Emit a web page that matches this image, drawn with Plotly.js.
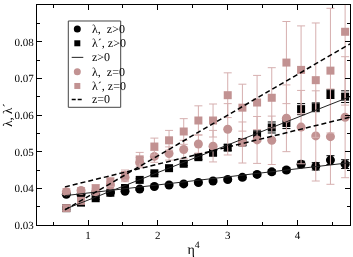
<!DOCTYPE html>
<html>
<head>
<meta charset="utf-8">
<script src="https://cdn.plot.ly/plotly-3.0.1.min.js"></script>
<style>
html,body{margin:0;padding:0;background:#fff;}
#chart{width:353px;height:257px;}
#chart .main-svg{will-change:transform;}
#chart text{text-rendering:geometricPrecision;}
</style>
</head>
<body>
<div id="chart"></div>
<script>
// eta^4 values
var x = [0.69, 0.90, 1.11, 1.32, 1.53, 1.74, 1.95, 2.16, 2.37, 2.58, 2.79, 3.00, 3.21, 3.42, 3.63, 3.84, 4.05, 4.26, 4.47, 4.68];
// lambda, z>0
var lamPos = [0.0384, 0.0383, 0.0387, 0.0389, 0.0392, 0.0398, 0.0405, 0.0409, 0.0412, 0.0416, 0.0420, 0.0424, 0.0430, 0.0438, 0.0445, 0.0450, 0.0466, 0.0460, 0.0477, 0.0466];
var lamPosErr = [0.0003, 0.0003, 0.0003, 0.0003, 0.0003, 0.0003, 0.0003, 0.0003, 0.0004, 0.0004, 0.0004, 0.0004, 0.0005, 0.0005, 0.0006, 0.0006, 0.0008, 0.0010, 0.0012, 0.0012];
// lambda', z>0
var lamPPos = [0.0346, 0.0361, 0.0373, 0.0388, 0.0401, 0.0423, 0.0441, 0.0455, 0.0467, 0.0485, 0.0497, 0.0511, 0.0526, 0.0545, 0.0566, 0.0578, 0.0616, 0.0621, 0.0657, 0.0650];
var lamPPosErr = [0.0003, 0.0003, 0.0003, 0.0003, 0.0003, 0.0003, 0.0003, 0.0003, 0.0005, 0.0006, 0.0007, 0.0008, 0.0010, 0.0012, 0.0015, 0.0015, 0.0015, 0.0012, 0.0012, 0.0016];
// lambda, z=0
var lamZ = [0.0391, 0.0394, 0.0391, 0.0409, 0.0430, 0.0470, 0.0487, 0.0495, 0.0506, 0.0521, 0.0515, 0.0561, 0.0525, 0.0532, 0.0531, 0.0591, 0.0567, 0.0543, 0.0541, 0.0594];
var lamZErr = [0.0008, 0.0008, 0.0009, 0.0010, 0.0012, 0.0014, 0.0016, 0.0018, 0.0025, 0.0025, 0.0043, 0.0070, 0.0056, 0.0064, 0.0066, 0.0091, 0.0100, 0.0123, 0.0130, 0.0165];
// lambda', z=0
var lamPZ = [0.0346, 0.0366, 0.0400, 0.0418, 0.0436, 0.0479, 0.0514, 0.0531, 0.0555, 0.0585, 0.0585, 0.0654, 0.0620, 0.0634, 0.0647, 0.0743, 0.0723, 0.0695, 0.0721, 0.0827];
var lamPZErr = [0.0007, 0.0008, 0.0010, 0.0012, 0.0014, 0.0019, 0.0023, 0.0027, 0.0035, 0.0040, 0.0045, 0.0061, 0.0064, 0.0074, 0.0082, 0.0112, 0.0120, 0.0156, 0.0170, 0.0200];
// fit lines (end points)
var xFit = [0.67, 4.75];
var fitLamPos = [0.0380, 0.0470];
var fitLamPPos = [0.0343, 0.0650];
var fitLamZ = [0.0404, 0.0594];
var fitLamPZ = [0.0341, 0.0794];
// legend labels
var legendLabels = ["λ,\u00a0\u00a0z&gt;0", "λ\u00b4,\u00a0z&gt;0", "z&gt;0", "λ,\u00a0\u00a0z=0", "λ\u00b4,\u00a0z=0", "z=0"];

var PINK = '#c29292';
var PINKBAR = '#d6afaf';
var FONT = 'Liberation Serif, Times New Roman, serif';

function pts(y, err, sym, size, color, barColor) {
  return {
    x: x, y: y, type: 'scatter', mode: 'markers', showlegend: false,
    marker: {symbol: sym, size: size, color: color},
    error_y: {type: 'data', array: err, visible: true, color: barColor, thickness: 1, width: 4}
  };
}
function fit(y, dash, w, color) {
  return {x: xFit, y: y, type: 'scatter', mode: 'lines', showlegend: false,
          line: {color: color, width: w, dash: dash}};
}

var data = [
  pts(lamPos, lamPosErr, 'circle', 9, '#000', '#000'),
  pts(lamPPos, lamPPosErr, 'square', 8, '#000', '#000'),
  pts(lamZ, lamZErr, 'circle', 9, PINK, PINKBAR),
  pts(lamPZ, lamPZErr, 'square', 8, PINK, PINKBAR),
  fit(fitLamPos, 'solid', 1, '#222'),
  fit(fitLamPPos, 'solid', 1, '#222'),
  fit(fitLamZ, '5px,3px', 1.5, '#000'),
  fit(fitLamPZ, '5px,3px', 1.5, '#000')
];

// custom legend (paper coords)
var rowY = [0.891, 0.826, 0.762, 0.697, 0.632, 0.571];
var symX = 0.1288, txtX = 0.1693;
var shapes = [{type: 'rect', xref: 'paper', yref: 'paper', x0: 0.100, x1: 0.2674, y0: 0.535, y1: 0.9273,
               line: {color: '#444', width: 1}, fillcolor: '#fff', layer: 'above'}];
var kinds = ['circle', 'square', 'solid', 'circle', 'square', 'dash'];
var cols = ['#000', '#000', '#222', PINK, PINK, '#000'];
for (var i = 0; i < 6; i++) {
  var k = kinds[i];
  if (k === 'circle' || k === 'square') {
    var r = k === 'circle' ? 3.5 : 3;
    shapes.push({type: k === 'circle' ? 'circle' : 'rect', xref: 'paper', yref: 'paper',
      xsizemode: 'pixel', ysizemode: 'pixel', xanchor: symX, yanchor: rowY[i],
      x0: -r, x1: r, y0: -r, y1: r, fillcolor: cols[i], line: {width: 0}, layer: 'above'});
  } else {
    shapes.push({type: 'line', xref: 'paper', yref: 'paper', x0: 0.1109, x1: 0.1479, y0: rowY[i], y1: rowY[i],
      line: {color: cols[i], width: k === 'dash' ? 1.5 : 1, dash: k === 'dash' ? '4px,2px' : 'solid'}, layer: 'above'});
  }
}
var annotations = legendLabels.map(function (t, i) {
  return {text: t, xref: 'paper', yref: 'paper', x: txtX, y: rowY[i],
          xanchor: 'left', yanchor: 'middle', align: 'left',
          showarrow: false, font: {family: FONT, size: 12, color: '#000'}};
});

var axisCommon = {
  showline: true, linecolor: '#000', linewidth: 1, mirror: 'ticks',
  ticks: 'inside', ticklen: 5, tickwidth: 1, tickcolor: '#000',
  showgrid: false, zeroline: false,
  tickfont: {family: FONT, size: 11, color: '#000'},
  minor: {ticks: 'inside', ticklen: 3, tickwidth: 1, tickcolor: '#000', showgrid: false}
};

var layout = {
  width: 353, height: 257,
  margin: {l: 37, r: 3, t: 5, b: 32},
  paper_bgcolor: '#fff', plot_bgcolor: '#fff',
  showlegend: false,
  font: {family: FONT, color: '#000'},
  xaxis: Object.assign({}, axisCommon, {
    range: [0.27, 4.75], tickmode: 'linear', tick0: 1, dtick: 1,
    minor: Object.assign({}, axisCommon.minor, {dtick: 0.5, tick0: 0.5}),
    title: {text: 'η<sup>4</sup>', font: {family: FONT, size: 14}, standoff: 8}
  }),
  yaxis: Object.assign({}, axisCommon, {
    range: [0.03, 0.09], tickmode: 'linear', tick0: 0.03, dtick: 0.01, tickformat: '.2f',
    minor: Object.assign({}, axisCommon.minor, {dtick: 0.005, tick0: 0.03}),
    title: {text: 'λ, λ´', font: {family: FONT, size: 13}, standoff: 2}
  }),
  shapes: shapes,
  annotations: annotations
};

Plotly.newPlot('chart', data, layout, {displayModeBar: false, staticPlot: true});
</script>
</body>
</html>
